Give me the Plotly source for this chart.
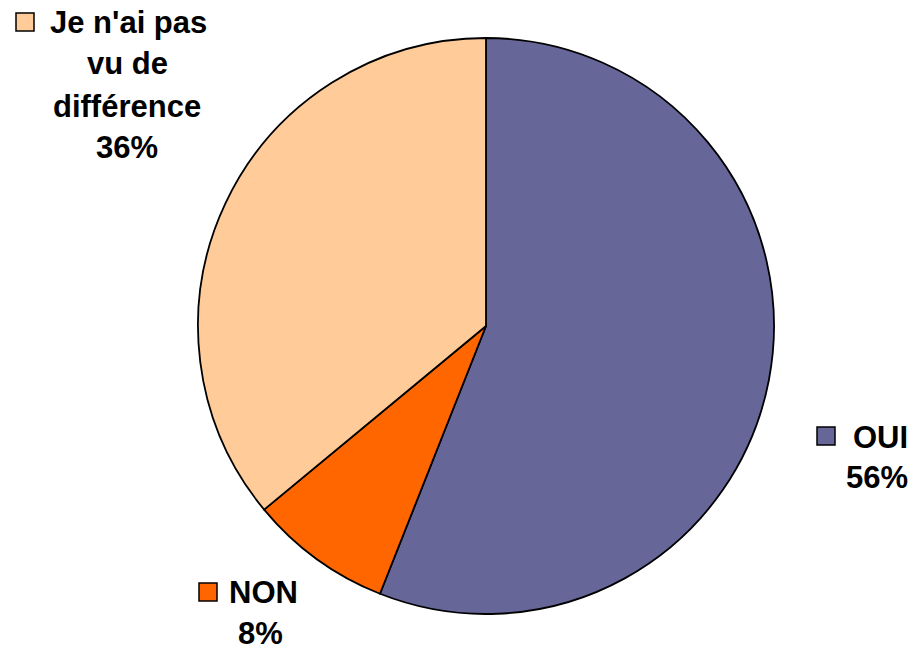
import plotly.graph_objects as go

labels = ["OUI", "NON", "Je n'ai pas vu de différence"]
values = [56, 8, 36]
colors = ["#666699", "#FF6600", "#FFCC99"]
label_lines = [["OUI"], ["NON"], ["Je n'ai pas", "vu de", "différence"]]

W, H = 915, 651

fig = go.Figure(go.Pie(
    labels=labels,
    values=values,
    sort=False,
    direction="clockwise",
    rotation=0,
    marker=dict(colors=colors, line=dict(color="black", width=1.8)),
    textinfo="none",
    hoverinfo="label+percent",
    showlegend=False,
    domain=dict(x=[198 / W, 774 / W], y=[1 - 614 / H, 1 - 38 / H]),
))

total = sum(values)
pct = [f"{round(v * 100 / total)}%" for v in values]

# label layouts: line centers in px, legend square top-left in px
layouts = {
    0: dict(xs=[880, 877], ys=[437, 477], sq=(817, 427)),
    1: dict(xs=[263, 260], ys=[592, 633], sq=(199, 583)),
    2: dict(xs=[128, 127, 127, 127], ys=[22, 64, 106, 147], sq=(16, 13)),
}

font = dict(family="Liberation Sans, Arial, sans-serif", size=31, color="black")
shapes = []
annotations = []
for i, lab in enumerate(labels):
    lay = layouts[i]
    lines = label_lines[i] + [pct[i]]
    for text, x, y in zip(lines, lay["xs"], lay["ys"]):
        annotations.append(dict(
            x=x / W, y=1 - y / H, xref="paper", yref="paper",
            text=f"<b>{text}</b>", showarrow=False,
            xanchor="center", yanchor="middle", font=font,
        ))
    sx, sy = lay["sq"]
    shapes.append(dict(
        type="rect", xref="paper", yref="paper",
        x0=sx / W, x1=(sx + 18) / W, y0=1 - sy / H, y1=1 - (sy + 18) / H,
        fillcolor=colors[i], line=dict(color="black", width=1.5),
    ))

fig.update_layout(
    width=W, height=H,
    margin=dict(l=0, r=0, t=0, b=0),
    paper_bgcolor="white", plot_bgcolor="white",
    shapes=shapes, annotations=annotations,
)

fig.write_html(
    "out.html",
    config={"displayModeBar": False},
    post_script="document.body.style.margin='0px';document.body.style.overflow='hidden';",
)
